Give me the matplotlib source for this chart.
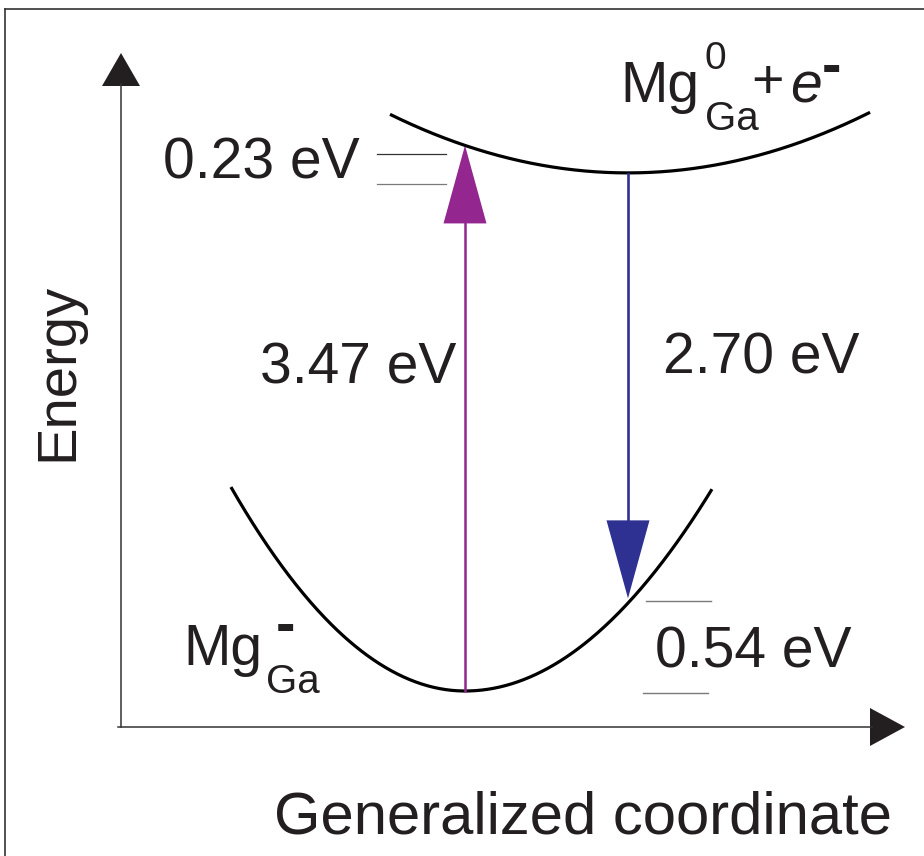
import numpy as np
import matplotlib
matplotlib.use("Agg")
import matplotlib.pyplot as plt

# ---------------- data (configuration-coordinate diagram) ----------------
state_names = ["ground", "excited"]
coord_min = [0.0, 1.0]            # generalized coordinate of each minimum
energy_min = [0.0, 3.30]          # energy of each minimum (eV, drawing scale)
ground_curv = [0.63, 0.56]        # left / right curvature of ground curve
excited_curv = [0.175]            # curvature of excited curve
ground_span = [-1.436, 1.515]     # drawn q-range of ground curve
excited_span = [-0.46, 2.485]     # drawn q-range of excited curve
energy_labels = ["3.47 eV", "2.70 eV", "0.23 eV", "0.54 eV"]
axis_labels = ["Generalized coordinate", "Energy"]

TXT = "#231F20"
PURPLE = "#93278F"
BLUE = "#2E3192"
GRAY = "#7A7A7A"
FONT = "Liberation Sans"

W, H = 924, 856
fig = plt.figure(figsize=(W / 100, H / 100), dpi=100)

# overlay axes in pixel units (for frame, axes arrows, texts)
ov = fig.add_axes([0, 0, 1, 1])
ov.set_xlim(0, W)
ov.set_ylim(H, 0)
ov.axis("off")

# data axes for the curves and transitions
px_q, x0 = 163.0, 465.0     # pixels per unit coordinate, x pixel of q=0
px_e, y0 = 157.0, 691.0     # pixels per eV, y pixel of E=0
ax = fig.add_axes([0, 0, 1, 1])
ax.set_xlim((0 - x0) / px_q, (W - x0) / px_q)
ax.set_ylim((y0 - H) / px_e, (y0 - 0) / px_e)
ax.axis("off")
ax.patch.set_alpha(0)


def e_ground(q):
    q = np.asarray(q, dtype=float)
    k = np.where(q < coord_min[0], ground_curv[0], ground_curv[1])
    return energy_min[0] + k * (q - coord_min[0]) ** 2


def e_excited(q):
    q = np.asarray(q, dtype=float)
    return energy_min[1] + excited_curv[0] * (q - coord_min[1]) ** 2


qg = np.linspace(ground_span[0], ground_span[1], 400)
qe = np.linspace(excited_span[0], excited_span[1], 400)
ax.plot(qg, e_ground(qg), color="black", lw=2.3, solid_capstyle="butt")
ax.plot(qe, e_excited(qe), color="black", lw=2.3, solid_capstyle="butt")

head_len = 78 / px_e
head_w = 43 / px_q

# absorption arrow (purple) at ground minimum
qa = coord_min[0]
e_lo, e_hi = float(e_ground(qa)), float(e_excited(qa))
ax.plot([qa, qa], [e_lo, e_hi - head_len], color=PURPLE, lw=1.8)
ax.fill([qa - head_w / 2, qa + head_w / 2, qa],
        [e_hi - head_len, e_hi - head_len, e_hi], color=PURPLE, lw=0)

# emission arrow (blue) at excited minimum
qb = coord_min[1]
e_top, e_bot = energy_min[1], float(e_ground(qb)) + 0.03
ax.plot([qb, qb], [e_top - 0.01, e_bot + head_len], color=BLUE, lw=1.9)
ax.fill([qb - head_w / 2, qb + head_w / 2, qb],
        [e_bot + head_len, e_bot + head_len, e_bot], color=BLUE, lw=0)

# ---------------- frame and axes arrows (pixel overlay) ----------------
ov.plot([5, 5], [9, H + 5], color="#333333", lw=1.2)
ov.plot([5, W + 5], [9, 9], color="#333333", lw=1.2)

ov.plot([121, 121], [727, 84], color="#333333", lw=1.1)
ov.fill([102, 140, 121], [86, 86, 53], color=TXT, lw=0)
ov.plot([118, 872], [727, 727], color="#333333", lw=1.1)
ov.fill([870, 870, 905], [708, 746, 727], color=TXT, lw=0)

# level marker lines
ov.plot([377, 446], [154, 154], color="#333333", lw=0.9)
ov.plot([377, 446], [184, 184], color=GRAY, lw=0.9)
ov.plot([646, 711], [601, 601], color=GRAY, lw=1.0)
ov.plot([643, 708], [693, 693], color=GRAY, lw=1.0)

# ---------------- texts ----------------
big = 41
ov.text(163, 178, energy_labels[2], fontsize=big, family=FONT, color=TXT,
        ha="left", va="baseline")
ov.text(260, 383, energy_labels[0], fontsize=big, family=FONT, color=TXT,
        ha="left", va="baseline")
ov.text(663, 373, energy_labels[1], fontsize=big, family=FONT, color=TXT,
        ha="left", va="baseline")
ov.text(655, 668, energy_labels[3], fontsize=big, family=FONT, color=TXT,
        ha="left", va="baseline")

ov.text(583, 834, axis_labels[0], fontsize=43, family=FONT, color=TXT,
        ha="center", va="baseline")
ov.text(72, 372, axis_labels[1], fontsize=40.5, family=FONT, color=TXT,
        ha="center", va="baseline", rotation=90, rotation_mode="anchor")

# lower state label  Mg_Ga^-
ov.text(183, 665, "Mg", fontsize=big, family=FONT, color=TXT, ha="left", va="baseline")
ov.text(266, 693, "Ga", fontsize=29, family=FONT, color=TXT, ha="left", va="baseline")
ov.text(286, 628, "-", fontsize=42, family=FONT, weight="bold", color=TXT,
        ha="center", va="center")

# upper state label  Mg_Ga^0 + e^-
ov.text(620, 102, "Mg", fontsize=big, family=FONT, color=TXT, ha="left", va="baseline")
ov.text(705, 69, "0", fontsize=28, family=FONT, color=TXT, ha="left", va="baseline")
ov.text(705, 130, "Ga", fontsize=29, family=FONT, color=TXT, ha="left", va="baseline")
ov.text(768, 84, "+", fontsize=40, family=FONT, color=TXT, ha="center", va="center")
ov.text(790, 102, "e", fontsize=big, family=FONT, style="italic", color=TXT,
        ha="left", va="baseline")
ov.text(831, 69, "-", fontsize=42, family=FONT, weight="bold", color=TXT,
        ha="center", va="center")

fig.savefig("out.png", dpi=100)
